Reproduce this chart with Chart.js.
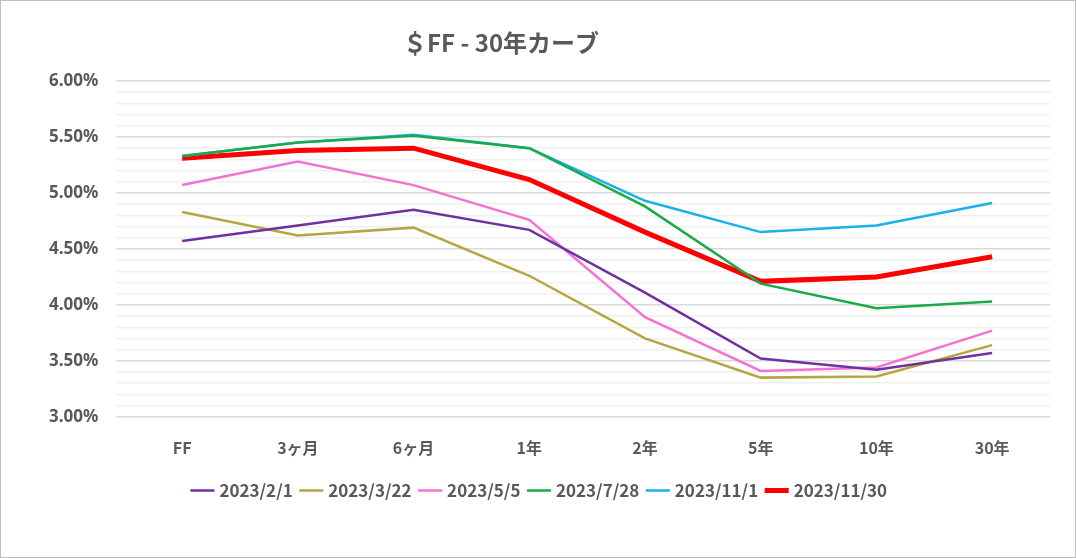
<!DOCTYPE html>
<html><head><meta charset="utf-8">
<script src="https://cdn.jsdelivr.net/npm/chart.js@4"></script>
<style>
html,body{margin:0;background:#fff;}
#wrap{position:absolute;left:0;top:0;width:1074px;height:556px;border:1px solid #bfbfbf;}
</style></head><body>
<div id="wrap"><canvas id="c"></canvas></div>
<script>
const labels = ['FF', '3ヶ月', '6ヶ月', '1年', '2年', '5年', '10年', '30年'];
const s0201 = [4.57, 4.71, 4.85, 4.67, 4.11, 3.52, 3.42, 3.57];
const s0322 = [4.83, 4.62, 4.69, 4.26, 3.70, 3.35, 3.36, 3.64];
const s0505 = [5.07, 5.28, 5.07, 4.76, 3.89, 3.41, 3.44, 3.77];
const s0728 = [5.33, 5.45, 5.51, 5.40, 4.88, 4.19, 3.97, 4.03];
const s1101 = [5.33, 5.45, 5.52, 5.40, 4.93, 4.65, 4.71, 4.91];
const s1130 = [5.31, 5.38, 5.40, 5.12, 4.65, 4.21, 4.25, 4.43];

function ds(label, data, color, w) {
    return { label, data, borderColor: color, backgroundColor: color, borderWidth: w, pointRadius: 0, tension: 0 };
}

const titlePlugin = {
    id: 'title2',
    afterDraw(chart) {
        const ctx = chart.ctx;
        ctx.save();
        ctx.fillStyle = '#595959';
        ctx.font = 'bold 24px "Noto Sans CJK JP"';
        ctx.textAlign = 'center';
        ctx.textBaseline = 'middle';
        ctx.fillText('＄FF - 30年カーブ', 500, 42);
        ctx.restore();
    }
};

new Chart(document.getElementById('c'), {
    type: 'line',
    data: {
        labels,
        datasets: [
            ds('2023/2/1', s0201, '#7030a0', 2.5),
            ds('2023/3/22', s0322, '#b5a642', 2.5),
            ds('2023/5/5', s0505, '#f472d0', 2.5),
            ds('2023/7/28', s0728, '#1aaa48', 2.5),
            ds('2023/11/1', s1101, '#1ab0e8', 2.5),
            ds('2023/11/30', s1130, '#ff0000', 5)
        ]
    },
    options: {
        responsive: true,
        maintainAspectRatio: false,
        animation: false,
        layout: { padding: { top: 80, left: 30, right: 25, bottom: 48 } },
        plugins: {
            legend: {
                position: 'bottom',
                labels: {
                    usePointStyle: true, pointStyle: 'line', boxWidth: 44, padding: 10,
                    color: '#595959', font: { size: 17, weight: 'bold', family: 'Noto Sans CJK JP' }
                }
            },
            tooltip: { enabled: false }
        },
        scales: {
            x: {
                offset: true,
                grid: { display: false },
                border: { display: false },
                ticks: { color: '#595959', padding: 14, font: { size: 16, weight: 'bold', family: 'Noto Sans CJK JP' } }
            },
            y: {
                min: 3, max: 6,
                border: { display: false },
                grid: {
                    color: ctx => (Math.abs(ctx.tick.value * 2 - Math.round(ctx.tick.value * 2)) < 1e-6) ? '#d9d9d9' : '#f0f0f0',
                    lineWidth: 1.5
                },
                ticks: {
                    stepSize: 0.1, autoSkip: false, padding: 18,
                    color: '#595959', font: { size: 17, weight: 'bold', family: 'Noto Sans' },
                    callback: v => (Math.abs(v * 2 - Math.round(v * 2)) < 1e-6) ? v.toFixed(2) + '%' : ''
                }
            }
        }
    },
    plugins: [titlePlugin]
});
</script>
</body></html>
